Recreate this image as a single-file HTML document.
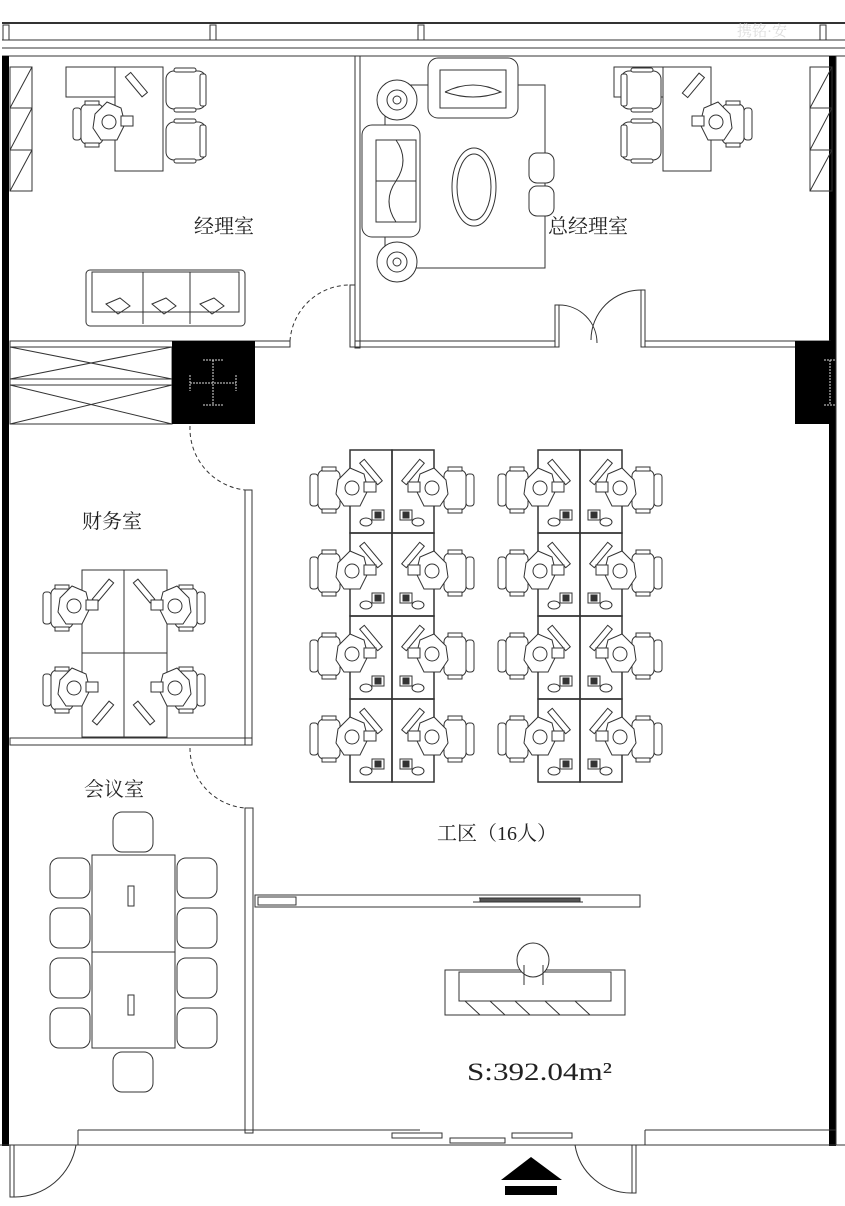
<!DOCTYPE html>
<html><head><meta charset="utf-8"><style>
html,body{margin:0;padding:0;background:#fff}
svg{display:block}
text{font-family:"Liberation Serif","Noto Serif CJK SC","Noto Sans CJK SC",serif;fill:#222}
</style></head><body>
<svg width="845" height="1206" viewBox="0 0 845 1206" xmlns="http://www.w3.org/2000/svg">
<defs>
<g id="chairL" fill="#fff" stroke="#333" stroke-width="1">
<rect x="0" y="4" width="8" height="32" rx="3"/>
<rect x="8" y="0" width="22" height="40" rx="6"/>
<rect x="12" y="-3" width="14" height="4"/>
<rect x="12" y="39" width="14" height="4"/>
</g>
<g id="person" fill="#fff" stroke="#333" stroke-width="1">
<path d="M0,8 L12,-4 L26,2 L30,18 L22,34 L6,34 L-2,22 Z"/>
<circle cx="14" cy="16" r="7"/>
<rect x="26" y="10" width="12" height="10"/>
</g>
<g id="ws" stroke="#333" fill="none" stroke-width="1">
<rect x="0" y="0" width="42" height="83" stroke-width="1.5"/>
<rect x="18" y="8" width="6" height="28" transform="rotate(-40 21 22)"/>
<path d="M14,28 a7,7 0 0 0 12,4"/>
<rect x="22" y="60" width="12" height="10"/>
<rect x="25" y="62" width="6" height="6" fill="#333"/>
<ellipse cx="16" cy="72" rx="6" ry="4"/>
</g>
<g id="wsRow">
<use href="#ws"/>
<g transform="translate(84,0) scale(-1,1)"><use href="#ws"/></g>
<g transform="translate(-40,20)"><use href="#chairL"/></g>
<g transform="translate(-12,22)"><use href="#person"/></g>
<g transform="translate(124,20) scale(-1,1)"><use href="#chairL"/></g>
<g transform="translate(96,22) scale(-1,1)"><use href="#person"/></g>
</g>
<g id="mchair" fill="#fff" stroke="#333" stroke-width="1">
<rect x="0" y="0" width="40" height="38" rx="8"/>
<rect x="34" y="3" width="6" height="32" rx="2"/>
<rect x="8" y="-3" width="22" height="4" rx="2"/>
<rect x="8" y="37" width="22" height="4" rx="2"/>
</g>
</defs>

<g stroke="#333" fill="none" stroke-width="1">
<line x1="2" y1="23" x2="845" y2="23" stroke-width="2"/>
<line x1="2" y1="40" x2="845" y2="40"/>
<line x1="2" y1="48" x2="845" y2="48"/>
<line x1="2" y1="56" x2="845" y2="56"/>
<rect x="3" y="25" width="6" height="15"/>
<rect x="210" y="25" width="6" height="15"/>
<rect x="418" y="25" width="6" height="15"/>
<rect x="820" y="25" width="6" height="15"/>
</g>
<text x="737" y="36" font-size="15" style="fill:#ddd">携铭·安</text>
<rect x="2" y="56" width="7" height="1090" fill="#000"/>
<rect x="829" y="56" width="7" height="1090" fill="#000"/>
<line x1="836" y1="56" x2="836" y2="1145" stroke="#333"/>

<g stroke="#333" fill="none" stroke-width="1">
<rect x="10" y="67" width="22" height="124"/>
<line x1="10" y1="108" x2="32" y2="108"/><line x1="10" y1="150" x2="32" y2="150"/>
<path d="M10,108 L32,67 M10,150 L32,108 M10,191 L32,150"/>
<rect x="810" y="67" width="22" height="124"/>
<line x1="810" y1="108" x2="832" y2="108"/><line x1="810" y1="150" x2="832" y2="150"/>
<path d="M810,108 L832,67 M810,150 L832,108 M810,191 L832,150"/>

<rect x="66" y="67" width="49" height="30"/>
<rect x="115" y="67" width="48" height="104"/>
<rect x="133" y="72" width="7" height="26" transform="rotate(-40 136 85)"/>
<rect x="614" y="67" width="49" height="30"/>
<rect x="663" y="67" width="48" height="104"/>
<rect x="690" y="72" width="7" height="26" transform="rotate(40 693 85)"/>

<rect x="86" y="270" width="159" height="56" rx="4"/>
<rect x="92" y="272" width="147" height="40"/>
<line x1="143" y1="272" x2="143" y2="324"/><line x1="190" y1="272" x2="190" y2="324"/>
<path d="M106,304 l14,-6 l10,8 l-12,8z M152,304 l14,-6 l10,8 l-12,8z M200,304 l14,-6 l10,8 l-12,8z"/>

<rect x="10" y="341" width="280" height="6"/>
<path d="M290,341 A60,60 0 0 1 350,285" stroke-dasharray="4,3"/>
<rect x="350" y="285" width="5" height="62"/>
<rect x="355" y="56" width="5" height="292"/>
<rect x="355" y="341" width="200" height="6"/>
<rect x="645" y="341" width="185" height="6"/>
<rect x="555" y="305" width="4" height="42"/>
<rect x="641" y="290" width="4" height="57"/>
<path d="M559,305 A38,38 0 0 1 597,343 M641,290 A50,50 0 0 0 591,340"/>

<rect x="10" y="347" width="162" height="77"/>
<line x1="10" y1="385" x2="172" y2="385"/><line x1="10" y1="379" x2="172" y2="379"/>
<path d="M10,347 L172,379 M10,379 L172,347 M10,385 L172,424 M10,424 L172,385"/>
</g>
<rect x="172" y="341" width="83" height="83" fill="#000"/>
<g stroke="#ddd" stroke-dasharray="2,1" fill="none"><path d="M213,360 V405 M190,383 H236 M203,360 H223 M203,405 H223 M190,375 V391 M236,375 V391"/></g>
<rect x="795" y="341" width="40" height="83" fill="#000"/>
<g stroke="#ddd" stroke-dasharray="2,1"><path d="M830,360 V405 M824,360 H836 M824,405 H836"/></g>

<g stroke="#333" fill="none" stroke-width="1">
<rect x="385" y="85" width="160" height="183"/>
<circle cx="397" cy="100" r="20" fill="#fff"/><circle cx="397" cy="100" r="10"/><circle cx="397" cy="100" r="4"/>
<circle cx="397" cy="262" r="20" fill="#fff"/><circle cx="397" cy="262" r="10"/><circle cx="397" cy="262" r="4"/>
<rect x="362" y="125" width="58" height="112" rx="10" fill="#fff"/>
<rect x="376" y="140" width="40" height="82"/>
<line x1="376" y1="181" x2="416" y2="181"/>
<path d="M396,140 q14,20 0,41 q-14,20 0,41"/>
<rect x="428" y="58" width="90" height="60" rx="10" fill="#fff"/>
<rect x="440" y="70" width="66" height="38"/>
<path d="M445,92 q28,-14 56,0 q-28,10 -56,0"/>
<ellipse cx="474" cy="187" rx="22" ry="39" fill="#fff"/><ellipse cx="474" cy="187" rx="17" ry="33"/>
<rect x="529" y="153" width="25" height="30" rx="8" fill="#fff"/>
<rect x="529" y="186" width="25" height="30" rx="8" fill="#fff"/>

<path d="M190,426 A62,62 0 0 0 245,490" stroke-dasharray="4,3"/>
<rect x="245" y="490" width="7" height="255"/>
<rect x="10" y="738" width="242" height="7"/>
<path d="M190,748 A60,60 0 0 0 245,808" stroke-dasharray="4,3"/>
<rect x="82" y="570" width="85" height="167"/>
<line x1="124" y1="570" x2="124" y2="737"/><line x1="82" y1="653" x2="167" y2="653"/>
<rect x="100" y="578" width="6" height="26" transform="rotate(40 103 591)"/>
<rect x="141" y="578" width="6" height="26" transform="rotate(-40 144 591)"/>
<rect x="100" y="700" width="6" height="26" transform="rotate(40 103 713)"/>
<rect x="141" y="700" width="6" height="26" transform="rotate(-40 144 713)"/>

<rect x="245" y="808" width="8" height="325"/>
<rect x="92" y="855" width="83" height="193"/>
<line x1="92" y1="952" x2="175" y2="952"/>
<rect x="128" y="886" width="6" height="20"/><rect x="128" y="995" width="6" height="20"/>

<rect x="255" y="895" width="385" height="12"/>
<rect x="258" y="897" width="38" height="8"/>
<path d="M473,902 h110 M479,898 h100"/>
<rect x="480" y="898" width="100" height="4" fill="#555"/>

<rect x="445" y="970" width="180" height="45"/>
<rect x="459" y="972" width="152" height="29"/>
<path d="M465,1001 l15,14 M490,1001 l15,14 M515,1001 l15,14 M545,1001 l15,14 M575,1001 l15,14"/>
<ellipse cx="533" cy="960" rx="16" ry="17" fill="#fff"/>
<path d="M524,965 v20 M543,965 v20"/>

<line x1="78" y1="1130" x2="420" y2="1130"/>
<line x1="645" y1="1130" x2="836" y2="1130"/>
<line x1="0" y1="1145" x2="845" y2="1145"/>
<line x1="78" y1="1130" x2="78" y2="1145"/>
<line x1="645" y1="1130" x2="645" y2="1145"/>
<rect x="10" y="1145" width="4" height="52"/>
<path d="M14,1197 A62,62 0 0 0 76,1145"/>
<rect x="632" y="1145" width="4" height="48"/>
<path d="M632,1193 A57,57 0 0 1 575,1145"/>
<rect x="392" y="1133" width="50" height="5"/><rect x="450" y="1138" width="55" height="5"/><rect x="512" y="1133" width="60" height="5"/>
</g>
<rect x="505" y="1186" width="52" height="9" fill="#000"/>
<path d="M501,1180 L531,1157 L562,1180 Z" fill="#000"/>

<use href="#mchair" x="166" y="71"/>
<use href="#mchair" x="166" y="122"/>
<g transform="translate(661,71) scale(-1,1)"><use href="#mchair"/></g>
<g transform="translate(661,122) scale(-1,1)"><use href="#mchair"/></g>
<g transform="translate(73,104)"><use href="#chairL"/></g>
<g transform="translate(95,106)"><use href="#person"/></g>
<g transform="translate(752,104) scale(-1,1)"><use href="#chairL"/></g>
<g transform="translate(730,106) scale(-1,1)"><use href="#person"/></g>

<use href="#wsRow" x="350" y="450"/>
<use href="#wsRow" x="350" y="533"/>
<use href="#wsRow" x="350" y="616"/>
<use href="#wsRow" x="350" y="699"/>
<use href="#wsRow" x="538" y="450"/>
<use href="#wsRow" x="538" y="533"/>
<use href="#wsRow" x="538" y="616"/>
<use href="#wsRow" x="538" y="699"/>

<g transform="translate(43,588)"><use href="#chairL"/></g>
<g transform="translate(60,590)"><use href="#person"/></g>
<g transform="translate(43,670)"><use href="#chairL"/></g>
<g transform="translate(60,672)"><use href="#person"/></g>
<g transform="translate(205,588) scale(-1,1)"><use href="#chairL"/></g>
<g transform="translate(189,590) scale(-1,1)"><use href="#person"/></g>
<g transform="translate(205,670) scale(-1,1)"><use href="#chairL"/></g>
<g transform="translate(189,672) scale(-1,1)"><use href="#person"/></g>

<g fill="#fff" stroke="#333">
<rect x="50" y="858" width="40" height="40" rx="9"/><rect x="50" y="908" width="40" height="40" rx="9"/>
<rect x="50" y="958" width="40" height="40" rx="9"/><rect x="50" y="1008" width="40" height="40" rx="9"/>
<rect x="177" y="858" width="40" height="40" rx="9"/><rect x="177" y="908" width="40" height="40" rx="9"/>
<rect x="177" y="958" width="40" height="40" rx="9"/><rect x="177" y="1008" width="40" height="40" rx="9"/>
<rect x="113" y="812" width="40" height="40" rx="9"/>
<rect x="113" y="1052" width="40" height="40" rx="9"/>
</g>

<text x="194" y="233" font-size="20">经理室</text>
<text x="548" y="233" font-size="20">总经理室</text>
<text x="82" y="528" font-size="20">财务室</text>
<text x="84" y="796" font-size="20">会议室</text>
<text x="437" y="840" font-size="20">工区（16人）</text>
<text x="467" y="1080" font-size="25" textLength="145" lengthAdjust="spacingAndGlyphs">S:392.04m²</text>
</svg>
</body></html>
